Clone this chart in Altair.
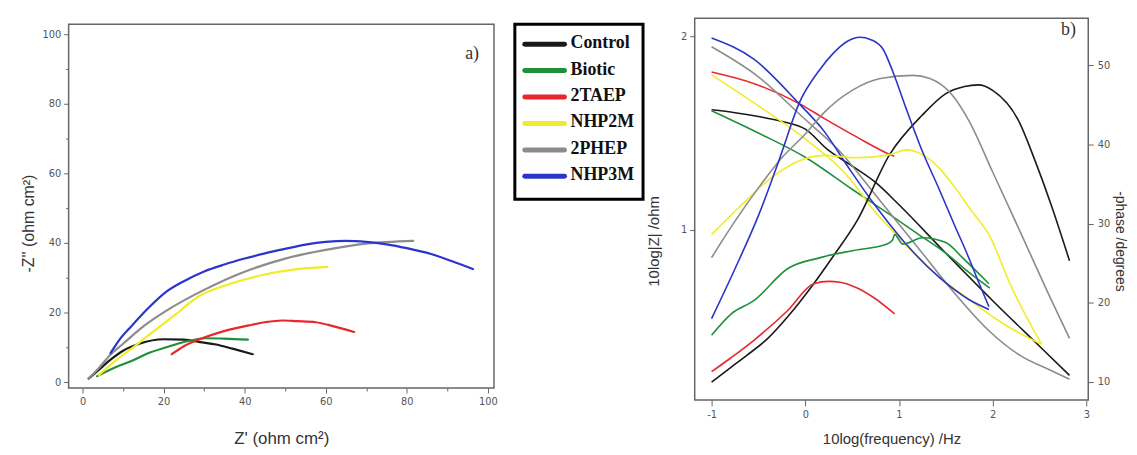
import altair as alt
import pandas as pd

# ---------------- series / colours ----------------
series = ["Control", "Biotic", "2TAEP", "NHP2M", "2PHEP", "NHP3M"]
colors = ["#1a1a1a", "#1f8f3a", "#e8272d", "#f0ec28", "#8c8c8c", "#2b35c9"]

# ---------------- a) Nyquist data ----------------
nyq_control_x = [1.5, 4, 7, 10, 14, 20, 25, 29, 33, 37, 42]
nyq_control_y = [1.0, 3.5, 6.5, 9.0, 11.0, 12.3, 12.2, 11.5, 10.8, 9.6, 8.0]
nyq_biotic_x = [3.6, 8, 12.5, 16, 20.7, 25, 30.5, 35, 40.8]
nyq_biotic_y = [1.7, 4.2, 6.3, 8.2, 10.0, 11.5, 12.6, 12.5, 12.2]
nyq_2taep_x = [22, 25, 30.5, 36, 41, 45, 49.3, 53, 57.5, 62, 67]
nyq_2taep_y = [8.0, 10.3, 13.0, 15.0, 16.3, 17.2, 17.7, 17.5, 17.2, 16.0, 14.4]
nyq_nhp2m_x = [4, 8, 12.5, 18, 23, 29, 35, 40, 45.3, 52, 60.4]
nyq_nhp2m_y = [2.0, 6.0, 10.0, 15.0, 19.5, 24.9, 27.7, 29.5, 31.0, 32.3, 33.1]
nyq_2phep_x = [1.5, 4, 7, 10, 15, 20.8, 30, 39.5, 50, 60, 70, 81.6]
nyq_2phep_y = [1.0, 4.0, 8.0, 11.0, 16.0, 20.6, 26.5, 31.5, 35.5, 38.0, 39.8, 40.6]
nyq_nhp3m_x = [6.9, 9, 12, 16, 20.7, 25, 30, 35, 40, 45, 50, 55, 60, 65, 70, 75, 80, 86, 91, 96.3]
nyq_nhp3m_y = [8.3, 12.0, 16.0, 21.0, 26.0, 29.0, 31.8, 33.8, 35.5, 37.0, 38.3, 39.5, 40.3, 40.6,
               40.3, 39.6, 38.5, 36.8, 34.8, 32.5]

# ---------------- b) Bode data ----------------
bz_control_x = [-1, -0.75, -0.5, -0.25, 0, 0.25, 0.5, 0.75, 1.0, 1.5, 2.0, 2.5, 2.82]
bz_control_y = [1.62, 1.605, 1.585, 1.56, 1.52, 1.41, 1.33, 1.245, 1.13, 0.88, 0.635, 0.40, 0.25]
bp_control_x = [-1, -0.8, -0.62, -0.4, -0.19, 0.09, 0.3, 0.55, 0.9, 1.25, 1.5, 1.7, 1.85, 2.0,
                2.28, 2.45, 2.62, 2.82]
bp_control_y = [10.0, 11.8, 13.4, 15.5, 18.2, 22.4, 25.9, 30.3, 38.7, 43.7, 46.4, 47.3, 47.5, 46.8,
                42.9, 38.0, 32.5, 25.3]

bz_biotic_x = [-1, -0.5, 0, 0.5, 0.9, 1.2, 1.5, 1.75, 1.97]
bz_biotic_y = [1.615, 1.50, 1.375, 1.21, 1.08, 0.98, 0.88, 0.78, 0.70]
bp_biotic_x = [-1, -0.79, -0.545, -0.19, 0.16, 0.513, 0.866, 0.93, 0.954, 1.04, 1.254, 1.5, 1.677, 1.96]
bp_biotic_y = [15.9, 18.6, 20.3, 24.3, 25.7, 26.6, 27.4, 27.9, 28.6, 27.4, 28.2, 27.6, 25.7, 22.4]

bz_2taep_x = [-1, -0.545, -0.069, 0.2, 0.548, 0.9, 0.95]
bz_2taep_y = [1.815, 1.755, 1.653, 1.576, 1.48, 1.39, 1.38]
bp_2taep_x = [-1, -0.8, -0.545, -0.19, 0.09, 0.25, 0.372, 0.548, 0.725, 0.954]
bp_2taep_y = [11.3, 13.0, 15.3, 19.0, 22.4, 22.7, 22.6, 21.9, 20.7, 18.6]

bz_nhp2m_x = [-1, -0.5, 0, 0.5, 0.7, 1.0, 1.33, 1.75, 2.1, 2.52]
bz_nhp2m_y = [1.80, 1.64, 1.47, 1.25, 1.12, 0.96, 0.80, 0.64, 0.52, 0.41]
bp_nhp2m_x = [-1, -0.72, -0.37, -0.087, 0.2, 0.55, 0.9, 1.08, 1.25, 1.43, 1.6, 1.78, 1.96, 2.2, 2.52]
bp_nhp2m_y = [28.6, 31.9, 35.7, 37.8, 38.6, 38.3, 38.7, 39.3, 38.7, 37.0, 34.5, 31.5, 28.6, 22.0, 14.8]

bz_2phep_x = [-1, -0.5, 0, 0.34, 0.75, 1.0, 1.25, 1.6, 1.96, 2.3, 2.6, 2.82]
bz_2phep_y = [1.945, 1.79, 1.57, 1.42, 1.18, 1.03, 0.88, 0.67, 0.48, 0.35, 0.28, 0.23]
bp_2phep_x = [-1, -0.75, -0.5, -0.25, 0, 0.2, 0.5, 0.8, 1.15, 1.33, 1.57, 1.75, 2.0, 2.3, 2.6, 2.82]
bp_2phep_y = [25.7, 30.3, 34.5, 38.3, 41.3, 44.0, 46.8, 48.3, 48.7, 48.3, 46.2, 42.9, 36.5, 28.8, 21.0, 15.5]

bz_nhp3m_x = [-1, -0.545, -0.069, 0.2, 0.45, 0.725, 1.07, 1.43, 1.75, 1.96]
bz_nhp3m_y = [1.99, 1.88, 1.653, 1.51, 1.33, 1.14, 0.93, 0.755, 0.64, 0.59]
bp_nhp3m_x = [-1, -0.75, -0.5, -0.25, -0.069, 0.16, 0.3, 0.45, 0.584, 0.7, 0.83, 0.937, 1.077,
              1.254, 1.43, 1.6, 1.712, 1.854, 1.96]
bp_nhp3m_y = [18.0, 24.3, 31.0, 39.0, 45.1, 49.5, 51.5, 53.0, 53.5, 53.2, 52.0, 49.1, 44.5,
              39.0, 34.3, 29.6, 26.6, 22.5, 19.5]


def long(name, xs, ys):
    return pd.DataFrame({"series": name, "x": xs, "y": ys, "order": list(range(len(xs)))})


nyq_df = pd.concat([
    long("Control", nyq_control_x, nyq_control_y),
    long("Biotic", nyq_biotic_x, nyq_biotic_y),
    long("2TAEP", nyq_2taep_x, nyq_2taep_y),
    long("NHP2M", nyq_nhp2m_x, nyq_nhp2m_y),
    long("2PHEP", nyq_2phep_x, nyq_2phep_y),
    long("NHP3M", nyq_nhp3m_x, nyq_nhp3m_y),
], ignore_index=True)

bz_df = pd.concat([
    long("Control", bz_control_x, bz_control_y),
    long("Biotic", bz_biotic_x, bz_biotic_y),
    long("2TAEP", bz_2taep_x, bz_2taep_y),
    long("NHP2M", bz_nhp2m_x, bz_nhp2m_y),
    long("2PHEP", bz_2phep_x, bz_2phep_y),
    long("NHP3M", bz_nhp3m_x, bz_nhp3m_y),
], ignore_index=True)

bp_df = pd.concat([
    long("Control", bp_control_x, bp_control_y),
    long("Biotic", bp_biotic_x, bp_biotic_y),
    long("2TAEP", bp_2taep_x, bp_2taep_y),
    long("NHP2M", bp_nhp2m_x, bp_nhp2m_y),
    long("2PHEP", bp_2phep_x, bp_2phep_y),
    long("NHP3M", bp_nhp3m_x, bp_nhp3m_y),
], ignore_index=True)

color_scale = alt.Scale(domain=series, range=colors)
nyq_width_scale = alt.Scale(domain=series, range=[2.2, 2.2, 2.2, 3.2, 2.2, 2.4])
LABEL_FONT = "Liberation Sans Narrow, DejaVu Sans Condensed, Liberation Sans"
TITLE_FONT = "Liberation Sans"
SERIF = "Liberation Serif, Times New Roman, DejaVu Serif, serif"
FRAME_COLOR = "#666666"
frame = alt.ViewBackground(stroke=FRAME_COLOR, strokeWidth=1.5, fill="white")
no_frame = alt.ViewBackground(stroke="transparent", fill="white")

common_axis = dict(grid=False, domain=False, labelFont=LABEL_FONT, labelFontSize=11,
                   labelColor="#555555", tickColor="#666666", tickWidth=1,
                   titleFont=TITLE_FONT, titleColor="#333333", titleFontWeight="normal")

minor_size = {"condition": {"test": "datum.value % 20 === 0", "value": 5}, "value": 3}
hyphen_minus = "replace(datum.label, '\u2212', '-')"

# ---------------- a) Nyquist panel ----------------
NYQ_W, NYQ_H = 428, 372
nyq_x_axis = alt.Axis(values=list(range(0, 101, 10)),
                      labelExpr="datum.value % 20 === 0 ? datum.label : ''",
                      tickSize=minor_size, labelPadding=3,
                      title="Z' (ohm cm²)", titleFontSize=17, titlePadding=24,
                      **common_axis)
nyq_y_axis = alt.Axis(values=list(range(0, 101, 10)),
                      labelExpr="datum.value % 20 === 0 ? datum.label : ''",
                      tickSize=minor_size, labelPadding=3,
                      minExtent=24, maxExtent=24,
                      title="-Z'' (ohm cm²)", titleFontSize=16, titlePadding=8, titleY=206,
                      **common_axis)

nyq_lines = alt.Chart(nyq_df).mark_line(strokeCap="round", interpolate="monotone").encode(
    x=alt.X("x:Q", scale=alt.Scale(domain=[-3.43, 101.5], nice=False, zero=False), axis=nyq_x_axis),
    y=alt.Y("y:Q", scale=alt.Scale(domain=[-1.71, 104.57], nice=False, zero=False), axis=nyq_y_axis),
    color=alt.Color("series:N", scale=color_scale, legend=None),
    strokeWidth=alt.StrokeWidth("series:N", scale=nyq_width_scale, legend=None),
    detail="series:N",
    order="order:Q",
)
nyq_frame = alt.Chart(pd.DataFrame({"a": [0]})).mark_rect(
    filled=False, stroke=FRAME_COLOR, strokeWidth=1.5).encode(
    x=alt.value(0), x2=alt.value(NYQ_W), y=alt.value(6), y2=alt.value(NYQ_H))
label_a = alt.Chart(pd.DataFrame({"t": ["a)"]})).mark_text(
    font=SERIF, fontSize=18, color="#333333").encode(
    x=alt.value(406), y=alt.value(36), text="t:N")

nyq_chart = alt.layer(nyq_frame, nyq_lines, label_a).properties(
    width=NYQ_W, height=NYQ_H, view=no_frame)

# ---------------- legend panel ----------------
leg_df = pd.DataFrame({"series": series, "i": list(range(len(series)))})
leg_y = alt.Y("i:Q", scale=alt.Scale(domain=[-0.977, 6.165], reverse=True, nice=False, zero=False),
              axis=None)
box = alt.Chart(pd.DataFrame({"a": [0]})).mark_rect(
    fill="white", stroke="black", strokeWidth=3).encode(
    x=alt.value(16), x2=alt.value(145), y=alt.value(6), y2=alt.value(182))
swatch = alt.Chart(leg_df).mark_rule(strokeWidth=5, strokeCap="round").encode(
    x=alt.value(26), x2=alt.value(66), y=leg_y,
    color=alt.Color("series:N", scale=color_scale, legend=None))
leg_text = alt.Chart(leg_df).mark_text(
    align="left", baseline="middle", font=SERIF, fontWeight="bold",
    fontSize=18, color="#111111", dy=-1).encode(
    x=alt.value(72), y=leg_y, text="series:N")
legend_chart = alt.layer(box, swatch, leg_text).properties(
    width=147, height=190, view=no_frame)

# ---------------- b) Bode panel ----------------
bode_x_scale = alt.Scale(domain=[-1.18, 3.02], nice=False, zero=False)
bode_x_axis = alt.Axis(values=[-1, 0, 1, 2, 3], tickSize=6, labelPadding=3, labelExpr=hyphen_minus,
                       title="10log(frequency) /Hz", titleFontSize=15, titlePadding=12,
                       **common_axis)

bode_z = alt.Chart(bz_df).mark_line(strokeWidth=1.6, interpolate="monotone").encode(
    x=alt.X("x:Q", scale=bode_x_scale, axis=bode_x_axis),
    y=alt.Y("y:Q", scale=alt.Scale(domain=[0.123, 2.092], nice=False, zero=False),
            axis=alt.Axis(orient="left", values=[1, 2], tickSize=5, labelPadding=3,
                          minExtent=22, maxExtent=22,
                          title="10log|Z| /ohm", titleFontSize=15, titlePadding=11, titleY=224,
                          **common_axis)),
    color=alt.Color("series:N", scale=color_scale, legend=None),
    detail="series:N",
    order="order:Q",
)
bode_p = alt.Chart(bp_df).mark_line(strokeWidth=1.6, interpolate="monotone").encode(
    x=alt.X("x:Q", scale=bode_x_scale, axis=bode_x_axis),
    y=alt.Y("y:Q", scale=alt.Scale(domain=[7.74, 55.9], nice=False, zero=False),
            axis=alt.Axis(orient="right", values=[10, 20, 30, 40, 50], tickSize=5, labelPadding=4,
                          minExtent=20, maxExtent=20,
                          title="-phase /degrees", titleFontSize=14, titlePadding=4, titleY=224,
                          **common_axis)),
    color=alt.Color("series:N", scale=color_scale, legend=None),
    detail="series:N",
    order="order:Q",
)
label_b = alt.Chart(pd.DataFrame({"t": ["b)"]})).mark_text(
    font=SERIF, fontSize=18, color="#333333").encode(
    x=alt.value(376), y=alt.value(12), text="t:N")

bode_chart = alt.layer(bode_z, bode_p, label_b).resolve_scale(y="independent").properties(
    width=396, height=384, view=frame)

chart = alt.hconcat(nyq_chart, legend_chart, bode_chart, spacing=0).properties(
    padding={"left": 12, "top": 8, "right": 2, "bottom": 0},
    background="white",
).configure_view(stroke=FRAME_COLOR)

chart.save("out.html", embed_options={"renderer": "svg", "actions": False})
